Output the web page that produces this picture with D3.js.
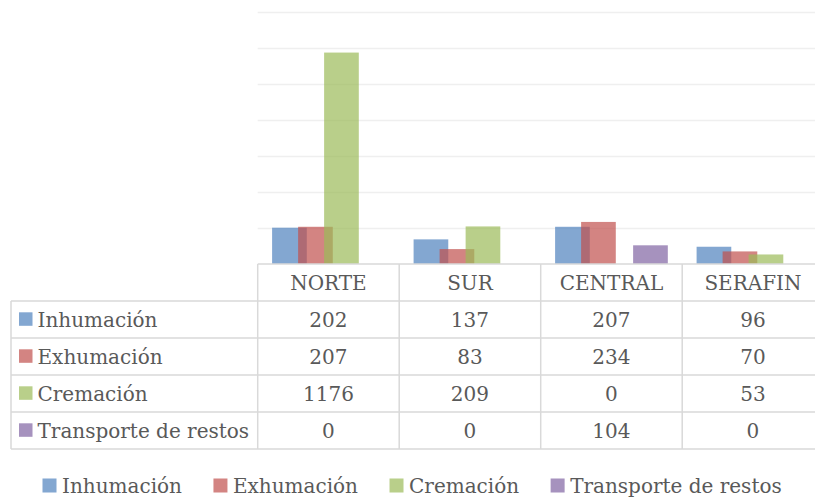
<!DOCTYPE html>
<html><head><meta charset="utf-8">
<script src="https://cdn.jsdelivr.net/npm/d3@7/dist/d3.min.js"></script>
<style>
html,body{margin:0;padding:0;background:#fff;}
svg{display:block;}
text{font-family:"DejaVu Serif",serif;fill:#595959;}
</style></head>
<body>
<svg id="chart" width="815" height="498"></svg>
<script>
const categories = ["NORTE", "SUR", "CENTRAL", "SERAFIN"];
const seriesNames = ["Inhumación", "Exhumación", "Cremación", "Transporte de restos"];
const inhumacion = [202, 137, 207, 96];
const exhumacion = [207, 83, 234, 70];
const cremacion = [1176, 209, 0, 53];
const transporte = [0, 0, 104, 0];
const yTicks = [0, 200, 400, 600, 800, 1000, 1200, 1400];
const colors = ["#4F81BD", "#C0504D", "#9BBB59", "#8064A2"];

const seriesValues = [inhumacion, exhumacion, cremacion, transporte];
const series = seriesNames.map((n, i) => ({name: n, values: seriesValues[i], color: colors[i]}));

const svg = d3.select("#chart");
const plotLeft = 257.7, bandW = 141.5;
const plotRight = plotLeft + bandW * categories.length;
const baseY = 264, topY = 12.3;
const tableLeft = 11;
const rowH = 37;
const gridColor = "#D9D9D9";
const opacity = 0.7;
const fontSize = 20;

const x = d3.scaleBand().domain(categories).range([plotLeft, plotRight]).padding(0);
const y = d3.scaleLinear().domain([0, 1400]).range([baseY, topY]);

// gridlines
svg.append("g").selectAll("line").data(yTicks.filter(t => t > 0)).join("line")
  .attr("x1", plotLeft).attr("x2", plotRight)
  .attr("y1", d => Math.round(y(d)) + 0.5).attr("y2", d => Math.round(y(d)) + 0.5)
  .attr("stroke", "#EFEFEF").attr("stroke-width", 1.5);

// bars
const w = x.bandwidth() / (3.25 + 0.83);
const step = w * 0.75;
const groupW = 3 * step + w;
const gBars = svg.append("g");
series.forEach((s, si) => {
  gBars.append("g").selectAll("rect").data(s.values.map((v, ci) => ({v, c: categories[ci]}))).join("rect")
    .attr("x", d => x(d.c) + (x.bandwidth() - groupW) / 2 + si * step)
    .attr("width", w)
    .attr("y", d => y(d.v))
    .attr("height", d => baseY - y(d.v))
    .attr("fill", s.color).attr("fill-opacity", opacity);
});

// table
const tbl = svg.append("g").attr("stroke", gridColor).attr("stroke-width", 1.5).attr("fill", "none");
tbl.append("line").attr("x1", plotLeft).attr("x2", plotRight).attr("y1", baseY).attr("y2", baseY);
const rowsTop = baseY + rowH;
for (let r = 0; r <= series.length; r++) {
  const yy = rowsTop + r * rowH;
  tbl.append("line").attr("x1", tableLeft).attr("x2", plotRight).attr("y1", yy).attr("y2", yy);
}
tbl.append("line").attr("x1", tableLeft).attr("x2", tableLeft).attr("y1", rowsTop).attr("y2", rowsTop + series.length * rowH);
const colEdges = categories.map(c => x(c)).concat([plotRight]);
colEdges.forEach(cx => {
  tbl.append("line").attr("x1", cx).attr("x2", cx).attr("y1", baseY).attr("y2", rowsTop + series.length * rowH);
});

// header text
svg.append("g").selectAll("text").data(categories).join("text")
  .attr("x", d => x(d) + x.bandwidth() / 2)
  .attr("y", baseY + rowH / 2 + 7.5)
  .attr("text-anchor", "middle").attr("font-size", fontSize)
  .text(d => d);

// rows
series.forEach((s, si) => {
  const cy = rowsTop + si * rowH + rowH / 2;
  svg.append("rect").attr("x", 19).attr("y", cy - 7.2).attr("width", 13.5).attr("height", 13.5)
    .attr("fill", s.color).attr("fill-opacity", opacity);
  svg.append("text").attr("x", 37.5).attr("y", cy + 7.5).attr("font-size", fontSize).text(s.name);
  svg.append("g").selectAll("text").data(s.values).join("text")
    .attr("x", (d, ci) => x(categories[ci]) + x.bandwidth() / 2)
    .attr("y", cy + 7.5).attr("text-anchor", "middle").attr("font-size", fontSize)
    .text(d => d);
});

// legend
const legY = 485.5;
const leg = svg.append("g");
let lx = 42.5;
const legGap = 31.5;
series.forEach((s) => {
  leg.append("rect").attr("x", lx).attr("y", legY - 7).attr("width", 14).attr("height", 14)
    .attr("fill", s.color).attr("fill-opacity", opacity);
  const t = leg.append("text").attr("x", lx + 19.5).attr("y", legY + 7.5).attr("font-size", fontSize).text(s.name);
  lx += 19.5 + t.node().getComputedTextLength() + legGap;
});
</script>
</body></html>
